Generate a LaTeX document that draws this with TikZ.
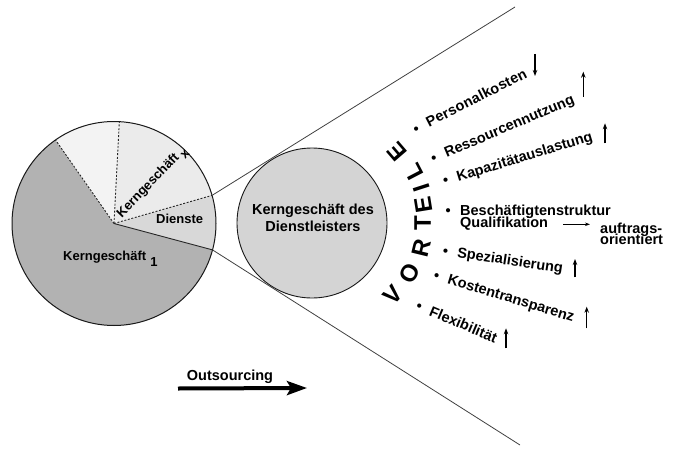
\documentclass[tikz,border=0pt]{standalone}
\usepackage{fontspec}
\setmainfont{Liberation Sans}
\usetikzlibrary{arrows.meta}
\definecolor{kgone}{RGB}{178,178,178}
\definecolor{toplight}{RGB}{243,243,243}
\definecolor{kgxcol}{RGB}{235,235,235}
\definecolor{diencol}{RGB}{216,216,216}
\definecolor{midcol}{RGB}{212,212,212}
\begin{document}
\begin{tikzpicture}[x=1pt,y=1pt,
  lbl/.style={font=\fontsize{14.5}{16.7}\selectfont\bfseries, inner sep=0pt},
  pielbl/.style={font=\fontsize{13}{15}\selectfont\bfseries, inner sep=0pt},
  vletter/.style={font=\fontsize{24}{26}\selectfont\bfseries, inner sep=0pt},
  sectorline/.style={draw=black!85, line width=0.9pt, dash pattern=on 2pt off 1.6pt},
  sectorsolid/.style={draw=black!85, line width=0.9pt},
  cone/.style={draw=black!75, line width=0.8pt},
  updown/.style={line width=1.3pt, -{Stealth[length=6pt,width=4.5pt]}},
  thinarrow/.style={line width=0.8pt, -{Stealth[length=5pt,width=3.5pt]}},
  bigarrow/.style={line width=4pt, -{Stealth[length=20pt,width=14pt,inset=4pt]}}
]
\useasboundingbox (0,0) rectangle (682,451);

% ---------- left pie ----------
\coordinate (pc) at (114,227.5);
\fill[kgone] (pc) -- ++(125:102) arc[start angle=125, end angle=345, radius=102] -- cycle;
\fill[diencol] (pc) -- ++(-15:102) arc[start angle=-15, end angle=16, radius=102] -- cycle;
\fill[kgxcol] (pc) -- ++(16:102) arc[start angle=16, end angle=87, radius=102] -- cycle;
\fill[toplight] (pc) -- ++(87:102) arc[start angle=87, end angle=125, radius=102] -- cycle;
\node[circle, draw=black!90, line width=1pt, minimum size=204pt, inner sep=0pt, outer sep=0pt] (leftc) at (pc) {};
\draw[sectorline] (pc) -- (leftc.125);
\draw[sectorline] (pc) -- (leftc.87);
\draw[sectorline] (pc) -- (leftc.16);
\draw[sectorsolid] (pc) -- (leftc.-15);

% ---------- cone lines ----------
\coordinate (ctop) at (515,444);
\coordinate (cbot) at (520,6);
\draw[cone] (leftc.16) -- (ctop);
\draw[cone] (leftc.-15) -- (cbot);

% ---------- middle circle ----------
\node[circle, draw=black!90, fill=midcol, line width=0.9pt, minimum size=150pt, inner sep=0pt] (midc) at (312,228) {};
\node[lbl, align=center] (midtxt) at (313,233) {Kerngeschäft des\\Dienstleisters};

% ---------- pie labels ----------
\node[pielbl, anchor=base west] (kg1) at (63,191) {Kerngeschäft\hspace{4pt}\raisebox{-6pt}{1}};
\node[pielbl, anchor=base west] (dien) at (156,227.7) {Dienste};
\node[pielbl, anchor=base west, rotate=46] (kgx) at (121.7,232.7) {Kerngeschäft\hspace{3pt}\raisebox{-5pt}{x}};

% ---------- VORTEILE ----------
\node[vletter, rotate=46.9]  (lV)  at (393.3,156)   {V};
\node[vletter, rotate=61.7]  (lO)  at (410,177.7)   {O};
\node[vletter, rotate=76.3]  (lR)  at (421.7,202.7) {R};
\node[vletter, rotate=89.9]  (lT)  at (422.7,228.3) {T};
\node[vletter, rotate=99.2]  (lE1) at (423.3,246)   {E};
\node[vletter, rotate=107.9] (lI)  at (421.7,262.7) {I};
\node[vletter, rotate=117.5] (lL)  at (413.3,279.3) {L};
\node[vletter, rotate=130.7] (lE2) at (397.3,298.7) {E};

% ---------- list items ----------
\node[lbl, anchor=base west, rotate=27]   (i1) at (429,323.5)   {\llap{\textbullet\hspace{9.5pt}}\addfontfeature{LetterSpace=1.5}Personalkosten};
\node[lbl, anchor=base west, rotate=23]   (i2) at (446.7,293.3) {\llap{\textbullet\hspace{9.5pt}}Ressourcennutzung};
\node[lbl, anchor=base west, rotate=17]   (i3) at (458.3,269.3) {\llap{\textbullet\hspace{9.5pt}}Kapazitätauslastung};
\node[lbl, anchor=base west]              (i4) at (460,236)     {\llap{\textbullet\hspace{9.5pt}}Beschäftigtenstruktur};
\node[lbl, anchor=base west]              (i4b) at (460,223.3)  {Qualifikation};
\node[lbl, anchor=base west, rotate=-8.5] (i5) at (456.7,193.7) {\llap{\textbullet\hspace{9.5pt}}Spezialisierung};
\node[lbl, anchor=base west, rotate=-17]  (i6) at (446.7,167.7) {\llap{\textbullet\hspace{9.5pt}}Kostentransparenz};
\node[lbl, anchor=base west, rotate=-23]  (i7) at (428.3,136)   {\llap{\textbullet\hspace{9.5pt}}Flexibilität};
\node[lbl, anchor=base west] (auf) at (600,217.7) {auftrags-};
\node[lbl, anchor=base west] (ori) at (600,206.7) {orientiert};

% ---------- small arrows ----------
\coordinate (a1s) at (535,397);   \coordinate (a1e) at (535,375);
\coordinate (a2s) at (583.3,354.3); \coordinate (a2e) at (583.3,379.3);
\coordinate (a3s) at (605,307.7); \coordinate (a3e) at (605,327.7);
\coordinate (a5s) at (575,173.7); \coordinate (a5e) at (575,192);
\coordinate (a6s) at (586.7,122.7); \coordinate (a6e) at (586.7,144.3);
\coordinate (a7s) at (506,102.7); \coordinate (a7e) at (506,122.7);
\draw[updown] (a1s) -- (a1e);
\draw[updown] (a2s) -- (a2e);
\draw[updown] (a3s) -- (a3e);
\draw[updown] (a5s) -- (a5e);
\draw[updown] (a6s) -- (a6e);
\draw[updown] (a7s) -- (a7e);
\coordinate (qs) at (563,226.7); \coordinate (qe) at (590,226.7);
\draw[thinarrow] (qs) -- (qe);

% ---------- Outsourcing ----------
\node[lbl, anchor=base west] (outs) at (186.7,71) {Outsourcing};
\coordinate (oa) at (178,62.5);
\coordinate (ob) at (307,63);
\draw[bigarrow] (oa) -- (ob);
\end{tikzpicture}
\end{document}
